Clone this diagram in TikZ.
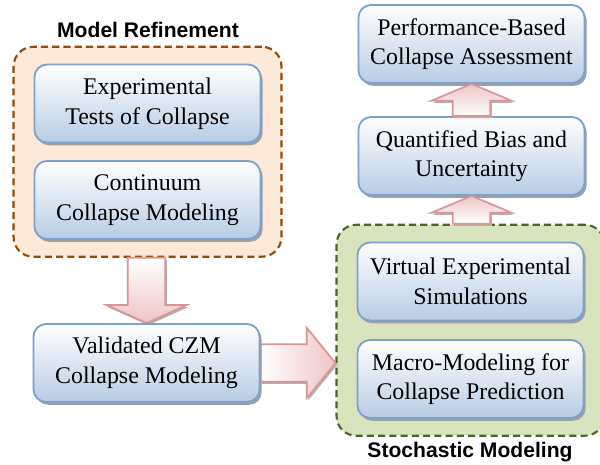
\documentclass[tikz,border=0pt]{standalone}
\usepackage{fontspec}
\setmainfont{Liberation Serif}
\setsansfont{Liberation Sans}
\usetikzlibrary{calc, fit, shadows, backgrounds}

\definecolor{boxline}{RGB}{126,160,205}
\definecolor{boxfill}{RGB}{184,204,228}
\definecolor{refinefill}{RGB}{253,233,217}
\definecolor{refineline}{RGB}{152,72,7}
\definecolor{stochfill}{RGB}{215,228,189}
\definecolor{stochline}{RGB}{79,98,40}
\definecolor{arrowline}{RGB}{217,149,148}
\definecolor{arrowfill}{RGB}{238,196,196}

\tikzset{
  stage/.style={draw=boxline, line width=1.3pt, rounded corners=9pt,
    top color=white, bottom color=boxfill,
    minimum width=5.65cm, minimum height=1.95cm, align=center,
    font=\fontsize{17}{21}\selectfont,
    drop shadow={shadow xshift=1.5pt, shadow yshift=-2pt, fill=gray!75, opacity=1}},
  group/.style={line width=1.5pt, dashed, dash pattern=on 5pt off 3pt,
    rounded corners=14pt, inner xsep=0.5cm, inner ysep=0.42cm},
  grouptitle/.style={font=\sffamily\bfseries\fontsize{15}{17}\selectfont},
  bigarrow/.style={draw=arrowline, line width=1.2pt,
    drop shadow={shadow xshift=1.2pt, shadow yshift=-1.5pt, fill=gray!60, opacity=1}}
}

% #1 tail, #2 tip, #3 shading, #4 head half width, #5 head length
\newcommand{\fatarrow}[5]{%
  \path ($(#2)!#5!(#1)$) coordinate (hb);
  \draw[bigarrow, #3]
    ($(#1)!0.47cm!90:(#2)$) -- ($(hb)!0.47cm!90:(#2)$) --
    ($(hb)!#4!90:(#2)$) -- (#2) -- ($(hb)!#4!-90:(#2)$) --
    ($(hb)!0.47cm!-90:(#2)$) -- ($(#1)!0.47cm!-90:(#2)$) -- cycle;
}

\begin{document}
\begin{tikzpicture}[x=0.025cm, y=-0.025cm]
  \useasboundingbox (0,0) rectangle (600,465);

  % left column
  \node[stage] (exp)  at (147.5,103.5) {Experimental\\Tests of Collapse};
  \node[stage] (cont) at (147.5,200)   {Continuum\\Collapse Modeling};
  \node[stage] (czm)  at (146.5,363)   {Validated CZM\\Collapse Modeling};

  % right column
  \node[stage] (perf)  at (471.5,44)    {Performance-Based\\Collapse Assessment};
  \node[stage] (bias)  at (471.5,156)   {Quantified Bias and\\Uncertainty};
  \node[stage] (virt)  at (470.5,281.5) {Virtual Experimental\\Simulations};
  \node[stage] (macro) at (470.5,379)   {Macro-Modeling for\\Collapse Prediction};

  \begin{scope}[on background layer]
    \node[group, draw=refineline, fill=refinefill, fit=(exp)(cont)] (refine) {};
    \node[group, draw=stochline, fill=stochfill, fit=(virt)(macro)] (stoch) {};
  \end{scope}

  \node[grouptitle] (refinetitle) at (148,30)  {Model Refinement};
  \node[grouptitle] (stochtitle)  at (470,452) {Stochastic Modeling};

  \begin{scope}[on background layer]
    \fatarrow{czm.north |- refine.south}{czm.north}{top color=white, bottom color=arrowfill}{1.0cm}{0.45cm}
    \fatarrow{czm.east}{stoch.west |- czm.east}{left color=white, right color=arrowfill}{0.88cm}{0.72cm}
  \end{scope}
  \fatarrow{bias.north}{perf.south}{top color=arrowfill, bottom color=white}{1.0cm}{0.42cm}
  \fatarrow{bias.south |- stoch.north}{bias.south}{top color=arrowfill, bottom color=white}{1.0cm}{0.42cm}
\end{tikzpicture}
\end{document}
